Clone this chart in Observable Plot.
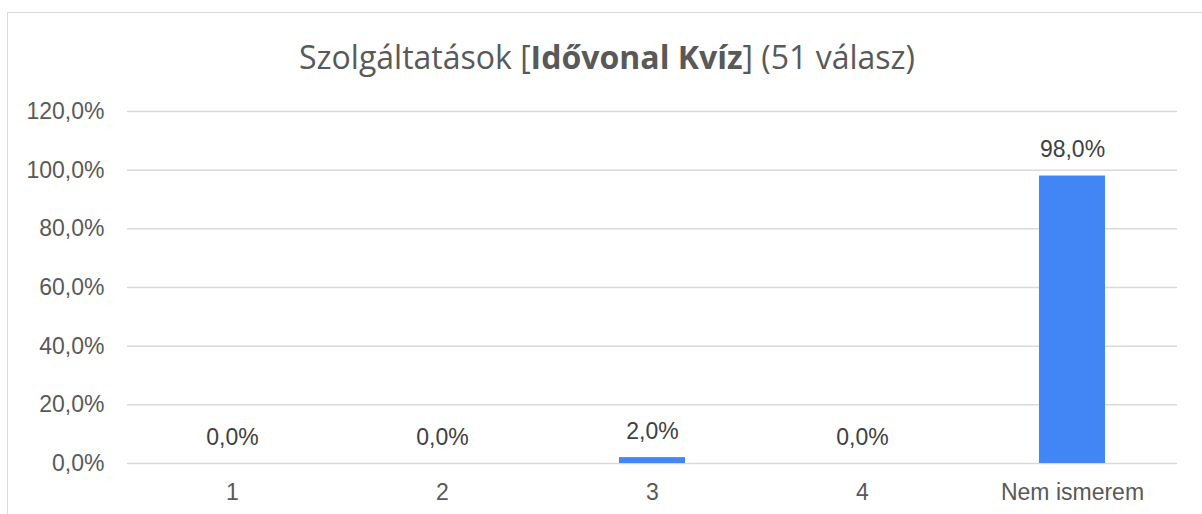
<!DOCTYPE html>
<html>
<head>
<meta charset="utf-8">
<script src="https://cdn.jsdelivr.net/npm/d3@7"></script>
<script src="https://cdn.jsdelivr.net/npm/@observablehq/plot@0.6"></script>
<style>
  html, body { margin: 0; padding: 0; background: #fff; width: 1202px; height: 514px; overflow: hidden; position: relative; }
  #heading { position: absolute; left: 0; top: -17px; font: bold 19px "Liberation Sans", Arial, sans-serif; color: #2f5597; white-space: nowrap; }
  #frame { position: absolute; left: 7px; top: 12px; width: 1210px; height: 520px; border: 1.5px solid #d9d9d9; box-sizing: border-box; }
  #title { position: absolute; left: 0; width: 1214px; top: 41px; line-height: 32px; text-align: center; font-family: "Open Sans", sans-serif; font-size: 32px; color: #595959; white-space: nowrap; }
  #title b { font-weight: 700; }
  #chart { position: absolute; left: 0; top: 0; }
</style>
</head>
<body>
<div id="heading">2.3.16. Idővonal Kvíz</div>
<div id="frame"></div>
<div id="title">Szolgáltatások [<b>Idővonal Kvíz</b>] (51 válasz)</div>
<div id="chart"></div>
<script>
const categories = ["1", "2", "3", "4", "Nem ismerem"];
const values = [0.0, 0.0, 0.02, 0.0, 0.98];
const yTicks = [0, 0.2, 0.4, 0.6, 0.8, 1.0, 1.2];

const data = categories.map((c, i) => ({category: c, value: values[i]}));
const pct = v => (v * 100).toFixed(1).replace(".", ",") + "%";

const chart = Plot.plot({
  width: 1202,
  height: 514,
  marginTop: 111,
  marginBottom: 51,
  marginLeft: 127,
  marginRight: 25,
  style: {background: "transparent", fontFamily: "'Liberation Sans', Arial, sans-serif", fontSize: "23px", color: "#595959"},
  x: {domain: categories, paddingInner: 0.686, paddingOuter: 0.343, label: null},
  y: {domain: [0, 1.2], label: null},
  marks: [
    Plot.ruleY(yTicks, {stroke: "#d9d9d9", strokeWidth: 1.5}),
    Plot.barY(data, {x: "category", y: "value", fill: "#4285f4"}),
    Plot.text(data, {x: "category", y: "value", text: d => pct(d.value), dy: -26, fontSize: 23, fill: "#404040"}),
    Plot.axisY({ticks: yTicks, tickFormat: pct, tickSize: 0, tickPadding: 23, fontSize: 23, fill: "#595959"}),
    Plot.axisX({tickSize: 0, tickPadding: 20, fontSize: 23, fill: "#595959"})
  ]
});
document.getElementById("chart").appendChild(chart);
</script>
</body>
</html>
